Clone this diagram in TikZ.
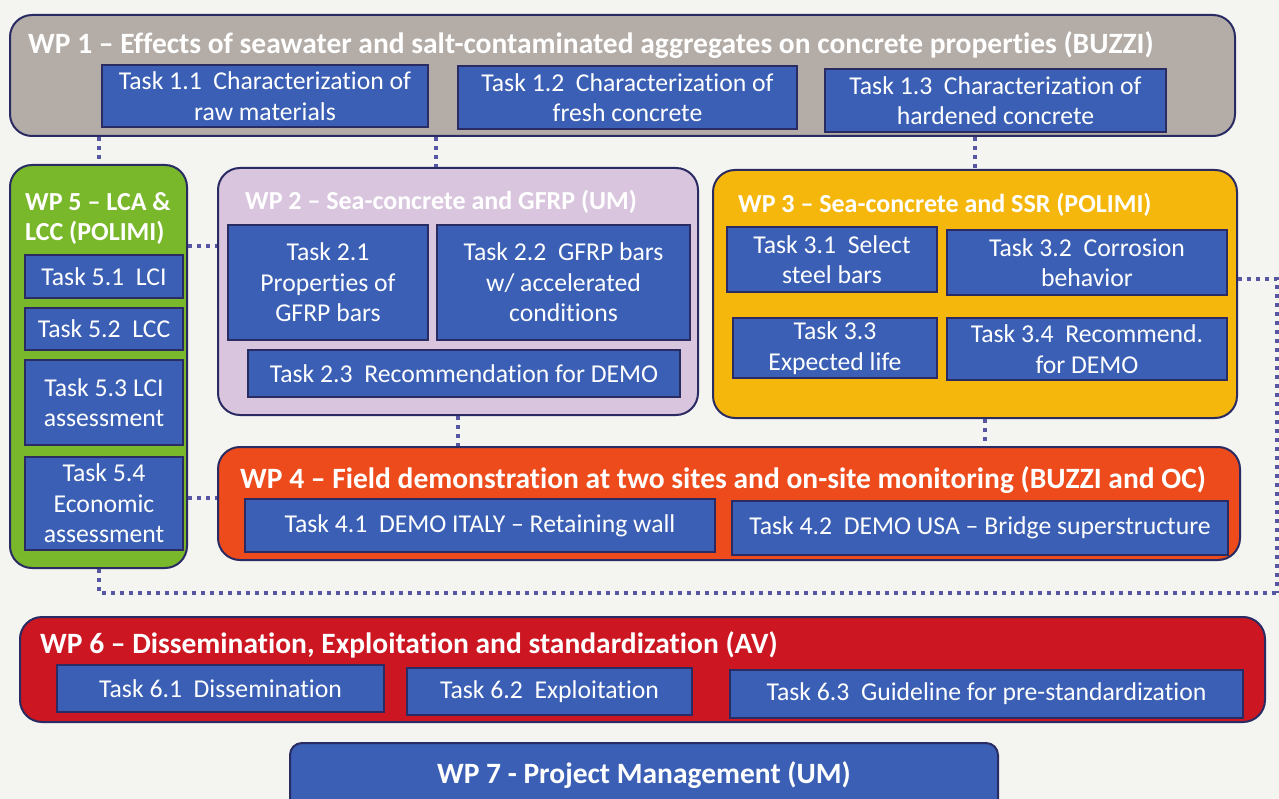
\documentclass[tikz,border=0pt]{standalone}
\usepackage{fontspec}
\setmainfont{Carlito}[Ligatures=NoCommon]
\usetikzlibrary{calc}
\definecolor{bgc}{HTML}{F4F4F1}
\definecolor{navy}{HTML}{2A2B62}
\definecolor{taskblue}{HTML}{3A5FB4}
\definecolor{graybox}{HTML}{B4ADA7}
\definecolor{greenbox}{HTML}{78B82A}
\definecolor{lavbox}{HTML}{D9C6DE}
\definecolor{yelbox}{HTML}{F6B70C}
\definecolor{orbox}{HTML}{EE4B1C}
\definecolor{redbox}{HTML}{CC1622}
\definecolor{dotc}{HTML}{5656A2}
\tikzset{
  wpbox/.style={draw=navy, line width=2pt, rounded corners=22pt, inner sep=0pt},
  taskbox/.style={draw=navy, line width=1.5pt, fill=taskblue, text=white, align=center,
    font=\fontsize{25.7}{30.5}\selectfont, inner sep=0pt},
  wptitle/.style={text=white, font=\bfseries\fontsize{29.5}{30}\selectfont, anchor=west, align=left, inner sep=0pt},
  wptitlesmall/.style={wptitle, font=\bfseries\fontsize{26}{30}\selectfont},
  dotline/.style={draw=dotc, line width=4pt, dash pattern=on 4pt off 5pt}
}
\begin{document}
\begin{tikzpicture}[x=1pt,y=-1pt]
\clip (0,0) rectangle (1279,799);
\fill[bgc] (0,0) rectangle (1279,799);
\useasboundingbox (0,0) rectangle (1279,799);

\coordinate (r1) at (1277,279);
\coordinate (r2) at (1277,593);
\coordinate (r3) at (1285,593);

% WP1
\node[wpbox, fill=graybox, minimum width=1225pt, minimum height=121pt] (wp1) at (622.5,75.5) {};
\node[wptitle] (wp1t) at (28,45) {WP 1 – Effects of seawater and salt-contaminated aggregates on concrete properties (BUZZI)};
\node[taskbox, minimum width=326pt, minimum height=62pt] (t11) at (265,96) {Task 1.1\ \ Characterization of\\raw materials};
\node[taskbox, minimum width=339pt, minimum height=63pt] (t12) at (627.5,97.5) {Task 1.2\ \ Characterization of\\fresh concrete};
\node[taskbox, minimum width=341pt, minimum height=63pt] (t13) at (995.5,100.5) {Task 1.3\ \ Characterization of\\hardened concrete};

% WP5
\node[wpbox, fill=greenbox, minimum width=177pt, minimum height=403pt] (wp5) at (98.5,366.5) {};
\node[wptitlesmall] (wp5t) at (25,218) {WP 5 – LCA \&\\LCC (POLIMI)};
\node[taskbox, minimum width=158pt, minimum height=43pt] (t51) at (104,276.5) {Task 5.1\ \ LCI};
\node[taskbox, minimum width=158pt, minimum height=42pt] (t52) at (104,329) {Task 5.2\ \ LCC};
\node[taskbox, minimum width=158pt, minimum height=85pt] (t53) at (104,402.5) {Task 5.3\ LCI\\assessment};
\node[taskbox, minimum width=158pt, minimum height=93pt] (t54) at (104,503.5) {Task 5.4\\Economic\\assessment};

% WP2
\node[wpbox, fill=lavbox, minimum width=480pt, minimum height=247pt] (wp2) at (458,291.5) {};
\node[wptitlesmall] (wp2t) at (245,202) {WP 2 – Sea-concrete and GFRP (UM)};
\node[taskbox, minimum width=200pt, minimum height=115pt] (t21) at (328,282.5) {Task 2.1\\Properties of\\GFRP bars};
\node[taskbox, minimum width=253pt, minimum height=115pt] (t22) at (563.5,282.5) {Task 2.2\ \ GFRP bars\\w/ accelerated\\conditions};
\node[taskbox, minimum width=432pt, minimum height=47pt] (t23) at (464,373.5) {Task 2.3\ \ Recommendation for DEMO};

% WP3
\node[wpbox, fill=yelbox, minimum width=524pt, minimum height=248pt] (wp3) at (975,294) {};
\node[wptitlesmall] (wp3t) at (738,205) {WP 3 – Sea-concrete and SSR (POLIMI)};
\node[taskbox, minimum width=210pt, minimum height=65pt] (t31) at (832,259.5) {Task 3.1\ \ Select\\steel bars};
\node[taskbox, minimum width=280pt, minimum height=65pt] (t32) at (1087,262.5) {Task 3.2\ \ Corrosion\\behavior};
\node[taskbox, minimum width=204pt, minimum height=60pt] (t33) at (835,348) {Task 3.3\\Expected life};
\node[taskbox, minimum width=280pt, minimum height=62pt] (t34) at (1087,349) {Task 3.4\ \ Recommend.\\for DEMO};

% WP4
\node[wpbox, fill=orbox, minimum width=1022pt, minimum height=113pt] (wp4) at (729,503.5) {};
\node[wptitle] (wp4t) at (240,480) {WP 4 – Field demonstration at two sites and on-site monitoring (BUZZI and OC)};
\node[taskbox, minimum width=470pt, minimum height=53pt] (t41) at (480,525.5) {Task 4.1\ \ DEMO ITALY – Retaining wall};
\node[taskbox, minimum width=496pt, minimum height=54pt] (t42) at (980,528) {Task 4.2\ \ DEMO USA – Bridge superstructure};

% WP6
\node[wpbox, fill=redbox, minimum width=1245pt, minimum height=105pt] (wp6) at (642.5,669.5) {};
\node[wptitle] (wp6t) at (40,645) {WP 6 – Dissemination, Exploitation and standardization (AV)};
\node[taskbox, minimum width=327pt, minimum height=47pt] (t61) at (220.5,688.5) {Task 6.1\ \ Dissemination};
\node[taskbox, minimum width=285pt, minimum height=47pt] (t62) at (549.5,691.5) {Task 6.2\ \ Exploitation};
\node[taskbox, minimum width=513pt, minimum height=48pt] (t63) at (986.5,694) {Task 6.3\ \ Guideline for pre-standardization};

% WP7
\node[wpbox, fill=taskblue, rounded corners=12pt, minimum width=708pt, minimum height=72pt] (wp7) at (644,779) {};
\node[text=white, font=\bfseries\fontsize{29.5}{30}\selectfont, inner sep=0pt] (wp7t) at (644,775) {WP 7 - Project Management (UM)};

% connectors
\draw[dotline] (wp1.south -| wp5.north) -- (wp5.north);
\draw[dotline] (wp1.south -| t22.west) -- (wp2.north -| t22.west);
\draw[dotline] (wp1.south -| wp3.north) -- (wp3.north);
\draw[dotline] ($(wp5.east |- t51.north)+(0,-8)$) coordinate (c1) -- (c1 -| wp2.west);
\draw[dotline] (wp5.east |- t41.north) -- (wp4.west |- t41.north);
\draw[dotline] (wp2.south) -- (wp4.north -| wp2.south);
\draw[dotline] ($(wp3.south)+(10,0)$) coordinate (c2) -- (c2 |- wp4.north);
\draw[dotline] (wp3.east |- r1) -- (r1) -- (r2);
\draw[dotline] (wp5.south) -- (wp5.south |- r2) -- (r3);
\end{tikzpicture}
\end{document}
